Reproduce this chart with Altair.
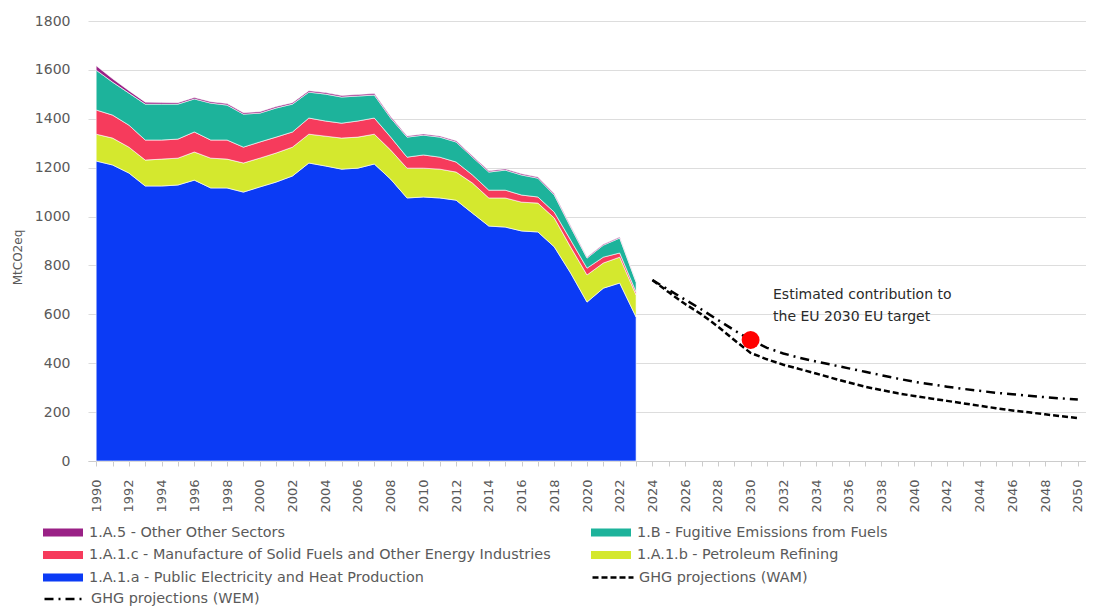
import altair as alt
import pandas as pd

# ---------------- data ----------------
years = list(range(1990, 2024))

public_elec = [1227, 1211, 1178, 1125, 1125, 1129, 1149, 1117, 1117, 1100,
               1121, 1141, 1166, 1219, 1207, 1194, 1198, 1215, 1153, 1076,
               1080, 1076, 1067, 1014, 961, 957, 941, 937, 876, 769,
               650, 707, 728, 589]
petroleum = [110, 110, 106, 106, 110, 110, 115, 122, 118, 119,
             118, 119, 118, 118, 122, 127, 127, 122, 119, 122,
             118, 118, 115, 123, 115, 119, 118, 118, 118, 106,
             111, 103, 106, 90]
solid_fuels = [99, 94, 90, 82, 78, 78, 82, 74, 78, 65,
               66, 65, 62, 66, 62, 61, 66, 66, 53, 45,
               54, 49, 41, 33, 32, 32, 29, 25, 24, 29,
               28, 24, 17, 12]
fugitive = [163, 135, 131, 147, 147, 143, 135, 151, 143, 135,
            118, 119, 114, 106, 110, 107, 102, 94, 78, 82,
            81, 82, 82, 73, 74, 82, 82, 77, 70, 53,
            41, 49, 61, 41]
other = [18, 14, 10, 8, 7, 6, 6, 6, 6, 6,
         6, 6, 6, 6, 6, 6, 6, 6, 6, 5,
         5, 5, 5, 5, 5, 5, 5, 5, 5, 5,
         4, 4, 4, 3]

proj_years = list(range(2024, 2051))
wem = [740, 700, 660, 620, 577, 535, 495, 463, 440, 422, 407, 393, 379, 365,
       351, 337, 324, 314, 304, 295, 287, 279, 273, 267, 261, 256, 252]
wam = [740, 690, 642, 600, 550, 495, 442, 416, 394, 376, 358, 339, 321, 304,
       290, 277, 266, 256, 246, 236, 226, 216, 207, 199, 191, 183, 176]

target_year = [2030]
target_value = [495]

note_lines = ["Estimated contribution to", "the EU 2030 EU target"]
note_year = [2031.37, 2031.37]
note_value = [679, 589]

tick_years = list(range(1990, 2051))
y_ticks = list(range(0, 1801, 200))

S_OTHER = "1.A.5 - Other Other Sectors"
S_FUG = "1.B - Fugitive Emissions from Fuels"
S_SOLID = "1.A.1.c - Manufacture of Solid Fuels and Other Energy Industries"
S_PETRO = "1.A.1.b - Petroleum Refining"
S_PUB = "1.A.1.a - Public Electricity and Heat Production"
S_WAM = "GHG projections (WAM)"
S_WEM = "GHG projections (WEM)"

# legend is laid out column by column: left column first, then right column
area_series = [S_OTHER, S_SOLID, S_PUB, S_FUG, S_PETRO]
area_colors = ["#9A2186", "#F63B5C", "#0B3BF5", "#1DB39B", "#D4E82E"]
stack_order = {S_PUB: 0, S_PETRO: 1, S_SOLID: 2, S_FUG: 3, S_OTHER: 4}
series_values = {S_PUB: public_elec, S_PETRO: petroleum, S_SOLID: solid_fuels,
                 S_FUG: fugitive, S_OTHER: other}

rows = []
for s, vals in series_values.items():
    for y, v in zip(years, vals):
        rows.append({"year": y, "value": v, "series": s, "ord": stack_order[s]})
df_area = pd.DataFrame(rows)

df_wam = pd.DataFrame({"year": proj_years, "value": wam, "series": S_WAM})
df_wem = pd.DataFrame({"year": proj_years, "value": wem, "series": S_WEM})
df_dot = pd.DataFrame({"year": target_year, "value": target_value})
df_note = pd.DataFrame({"year": note_year, "value": note_value, "text": note_lines})

FONT = "DejaVu Sans"
LABEL_COLOR = "#5a5a5a"

x_scale = alt.Scale(domain=[1989.5, 2050.5], nice=False, zero=False)
y_scale = alt.Scale(domain=[0, 1800], nice=False)

x_axis = alt.Axis(values=tick_years, format="d",
                  labelExpr="datum.value % 2 == 0 ? datum.label : ''",
                  labelAngle=-90, labelFontSize=13, labelColor=LABEL_COLOR,
                  labelFont=FONT, labelPadding=13, tickSize=5,
                  labelOverlap=False, labelBound=False, labelFlush=False,
                  tickColor="#cccccc", domainColor="#cccccc", grid=False,
                  title=None)
y_axis = alt.Axis(values=y_ticks, format="d",
                  labelFontSize=14, labelColor=LABEL_COLOR, labelFont=FONT,
                  labelPadding=18, ticks=False, domain=False,
                  gridColor="#dddddd",
                  title="MtCO2eq", titleFont=FONT, titleFontSize=12,
                  titleFontWeight="normal", titleColor=LABEL_COLOR,
                  titlePadding=10, titleY=236)

X = alt.X("year:Q", scale=x_scale, axis=x_axis)
Y = alt.Y("value:Q", scale=y_scale, axis=y_axis)

area = alt.Chart(df_area).mark_area(stroke="white", strokeWidth=0.6).encode(
    x=X,
    y=alt.Y("value:Q", stack="zero", scale=y_scale, axis=y_axis),
    color=alt.Color("series:N",
                    scale=alt.Scale(domain=area_series, range=area_colors),
                    legend=alt.Legend(
                        title=None, orient="none", legendX=-45, legendY=503.5,
                        columns=2, columnPadding=40, rowPadding=6.5,
                        clipHeight=16, padding=0,
                        symbolType="M-1,-0.2H1V0.2H-1Z", symbolSize=1600,
                        symbolStrokeWidth=0, symbolOffset=0, labelOffset=6,
                        labelLimit=800, labelFont=FONT, labelFontSize=14.4,
                        labelColor=LABEL_COLOR)),
    order=alt.Order("ord:Q"),
)


def proj_line(df, name, dash, lx, ly):
    return alt.Chart(df).mark_line(color="black", strokeWidth=2.5).encode(
        x=X,
        y=Y,
        strokeDash=alt.StrokeDash(
            "series:N",
            scale=alt.Scale(domain=[name], range=[dash]),
            legend=alt.Legend(
                title=None, orient="none", legendX=lx, legendY=ly,
                clipHeight=16, padding=0, symbolType="stroke",
                symbolSize=1681, symbolStrokeWidth=2.5,
                symbolStrokeColor="black", symbolOffset=0, labelOffset=4,
                labelLimit=800, labelFont=FONT, labelFontSize=14.4,
                labelColor=LABEL_COLOR)),
    )


wam_line = proj_line(df_wam, S_WAM, [6, 3], 503, 548.5)
wem_line = proj_line(df_wem, S_WEM, [9, 5, 2, 5], -45, 570)

dot = alt.Chart(df_dot).mark_circle(color="#FF0000", opacity=1, size=320).encode(
    x=X,
    y=Y,
)

note = alt.Chart(df_note).mark_text(align="left", baseline="middle",
                                    font=FONT, fontSize=14,
                                    color="#2a2a2a").encode(
    x=X,
    y=Y,
    text="text:N",
)

chart = alt.layer(area, wam_line, wem_line, dot, note).resolve_scale(
    strokeDash="independent"
).resolve_legend(
    strokeDash="independent"
).properties(
    width=998, height=440,
    autosize=alt.AutoSizeParams(type="none"),
    padding={"left": 80, "top": 13, "right": 0, "bottom": 147},
    background="white",
).configure_view(stroke=None).configure_axisX(labelOverlap=False)

chart.save("out.html", embed_options={"renderer": "svg", "actions": False})
